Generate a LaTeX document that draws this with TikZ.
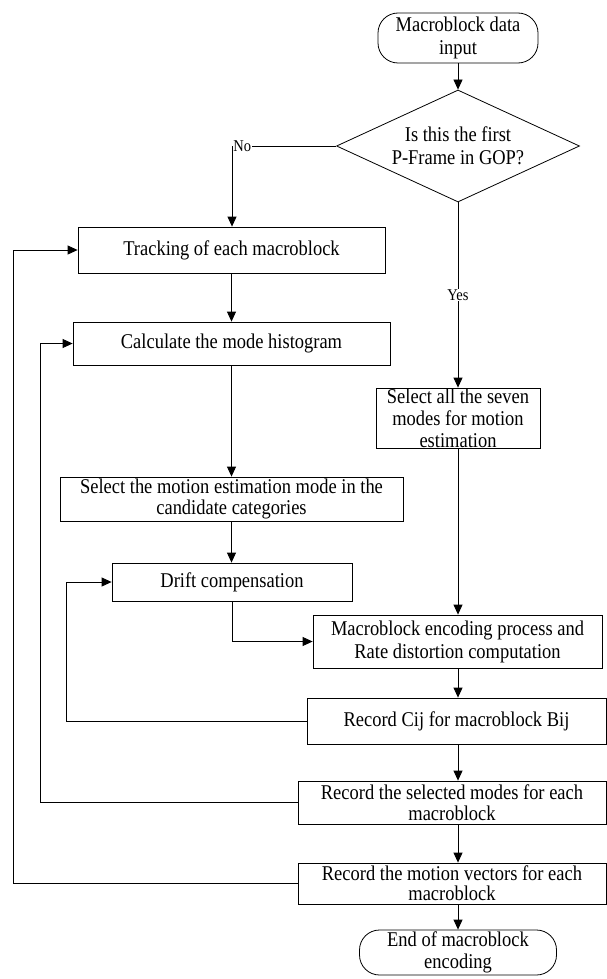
\documentclass[tikz,border=0pt]{standalone}
\usepackage{fontspec}
\setmainfont{Liberation Serif}[FakeStretch=0.88]
\usetikzlibrary{shapes.geometric,arrows.meta}
\begin{document}
\begin{tikzpicture}[x=1pt,y=-1pt,
  box/.style={draw,line width=0.8pt,inner sep=0pt,align=center,font=\fontsize{21}{23}\selectfont},
  term/.style={box,rounded corners=20pt},
  lbl/.style={fill=white,inner sep=0.5pt,font=\fontsize{16.5}{18}\selectfont},
  arr/.style={line width=0.8pt,-{Triangle[length=10pt,width=9pt]}},
  ln/.style={line width=0.8pt}]
\useasboundingbox (0,0) rectangle (607,979);
\node[term,minimum width=160pt,minimum height=50pt] (start) at (458,38) {Macroblock data\\input};
\node[box,diamond,aspect=2.17,minimum width=243pt,minimum height=112pt] (dec) at (458,146) {Is this the first\\P-Frame in GOP?};
\node[box,minimum width=307pt,minimum height=46pt] (track) at (231.5,250) {Tracking of each macroblock};
\node[box,minimum width=317pt,minimum height=43pt] (calc) at (231.5,343.5) {Calculate the mode histogram};
\node[box,minimum width=164pt,minimum height=60pt,font=\fontsize{21}{22}\selectfont] (selall) at (458,418) {Select all the seven\\modes for motion\\estimation};
\node[box,minimum width=343pt,minimum height=44pt,font=\fontsize{21}{21}\selectfont] (selmode) at (231.5,499) {Select the motion estimation mode in the\\candidate categories};
\node[box,minimum width=240pt,minimum height=38pt] (drift) at (232,582) {Drift compensation};
\node[box,minimum width=289pt,minimum height=53pt] (mbenc) at (457.5,641.5) {Macroblock encoding process and\\Rate distortion computation};
\node[box,minimum width=299pt,minimum height=46pt] (cij) at (456.5,721) {Record Cij for macroblock Bij};
\node[box,minimum width=308pt,minimum height=43pt,font=\fontsize{21}{21.5}\selectfont] (selrec) at (452,802.5) {Record the selected modes for each\\macroblock};
\node[box,minimum width=308pt,minimum height=41pt,font=\fontsize{21}{20}\selectfont] (mvrec) at (452,883.5) {Record the motion vectors for each\\macroblock};
\node[term,minimum width=197pt,minimum height=45pt,font=\fontsize{21}{22}\selectfont] (end) at (458,952.5) {End of macroblock\\encoding};
\coordinate (rx) at (458,0);
\coordinate (nocorner) at (232,146);
\coordinate (f1) at (13,0);
\coordinate (f2) at (40,0);
\coordinate (f3) at (66,0);
% main flow
\draw[arr] (start.south) -- (dec.north);
\draw[arr] (dec.west) -- (nocorner) -- (track.north -| nocorner);
\node[lbl,anchor=west] (no) at (232.6,146) {No};
\draw[arr] (dec.south) -- (selall.north) node[lbl,midway] (yes) {Yes};
\draw[arr] (track.south) -- (calc.north);
\draw[arr] (calc.south) -- (selmode.north);
\draw[arr] (selmode.south) -- (drift.north -| selmode.south);
\draw[arr] (drift.south) |- (mbenc.west);
\draw[arr] (selall.south) -- (mbenc.north -| selall.south);
\draw[arr] (mbenc.south -| rx) -- (cij.north -| rx);
\draw[arr] (cij.south -| rx) -- (selrec.north -| rx);
\draw[arr] (selrec.south -| rx) -- (mvrec.north -| rx);
\draw[arr] (mvrec.south -| rx) -- (end.north);
% feedback loops
\draw[arr] (mvrec.west) -- (mvrec.west -| f1) -- (track.west -| f1) -- (track.west);
\draw[arr] (selrec.west) -- (selrec.west -| f2) -- (calc.west -| f2) -- (calc.west);
\draw[arr] (cij.west) -- (cij.west -| f3) -- (drift.west -| f3) -- (drift.west);
\end{tikzpicture}
\end{document}
